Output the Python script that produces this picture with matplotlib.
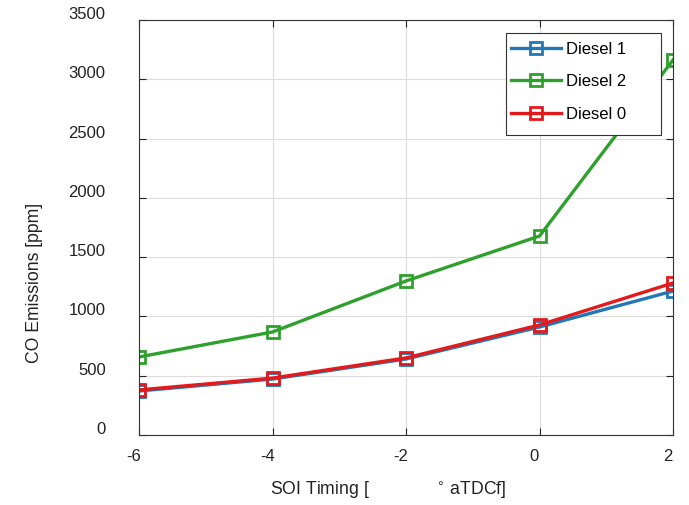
import matplotlib.pyplot as plt
import matplotlib.transforms as mtransforms
from matplotlib.patches import Rectangle
import numpy as np

plt.rcParams['font.family'] = ['Liberation Sans', 'DejaVu Sans']

# SOI timing values
soi_timing = [-6, -4, -2, 0, 2]

# CO emissions per fuel
co_diesel1 = [371, 472, 641, 911, 1214]
co_diesel2 = [658, 869, 1299, 1678, 3163]
co_diesel0 = [380, 480, 650, 928, 1282]

series_labels = ["Diesel 1", "Diesel 2", "Diesel 0"]
y_ticks = [0, 500, 1000, 1500, 2000, 2500, 3000, 3500]
x_ticks = [-6, -4, -2, 0, 2]

fig = plt.figure(figsize=(6.89, 5.05), dpi=100)
ax = fig.add_axes([139 / 689, 70 / 505, 534 / 689, 415 / 505])

colors = ['#2277b6', '#2ea02c', '#e31a1c']
for vals, lab, col in zip([co_diesel1, co_diesel2, co_diesel0], series_labels, colors):
    ax.plot(soi_timing, vals, color=col, linewidth=2.4, marker='s', markersize=8,
            markerfacecolor='none', markeredgewidth=2, label=lab)

ax.set_xlim(-6, 2)
ax.set_ylim(0, 3500)
ax.set_xticks(x_ticks)
ax.set_yticks(y_ticks)
ax.set_xticklabels([str(t) for t in x_ticks])
ax.grid(True, color='#dcdcdc', linewidth=0.8)
ax.tick_params(direction='in', top=True, right=True, labelsize=12, colors='#222222',
               length=5)
ax.tick_params(axis='y', pad=24)
ax.tick_params(axis='x', pad=10)
for sp in ax.spines.values():
    sp.set_color('#333333')
    sp.set_linewidth(0.8)

# MATLAB export puts the y labels a little above their ticks
shift_up = mtransforms.ScaledTranslation(0, 7 / 100, fig.dpi_scale_trans)
for lbl in ax.get_yticklabels():
    lbl.set_transform(lbl.get_transform() + shift_up)
shift_left = mtransforms.ScaledTranslation(-5 / 100, 0, fig.dpi_scale_trans)
for lbl in ax.get_xticklabels():
    lbl.set_transform(lbl.get_transform() + shift_left)

ax.set_ylabel("CO Emissions [ppm]", fontsize=12.7, color='#222222')
ax.yaxis.set_label_coords(-0.18, 0.366)
ax.set_xlabel("SOI Timing [              $^{\\circ}$ aTDCf]", fontsize=12.7, color='#222222')
ax.xaxis.label.set_va('center')
ax.xaxis.set_label_coords(0.466, -0.133)

# legend box drawn separately so it can be wider than its entries
box = Rectangle((0.687, 0.723), 0.2905, 0.2457, transform=ax.transAxes,
                facecolor='white', edgecolor='#333333', linewidth=0.8, zorder=4.9)
ax.add_patch(box)
leg = ax.legend(loc='upper left', bbox_to_anchor=(0.696, 0.948), fontsize=12,
                frameon=False, handlelength=3.05, handletextpad=0.3,
                borderpad=0, labelspacing=1.05, borderaxespad=0)
leg.set_zorder(5)

plt.savefig('out.png', dpi=100)
